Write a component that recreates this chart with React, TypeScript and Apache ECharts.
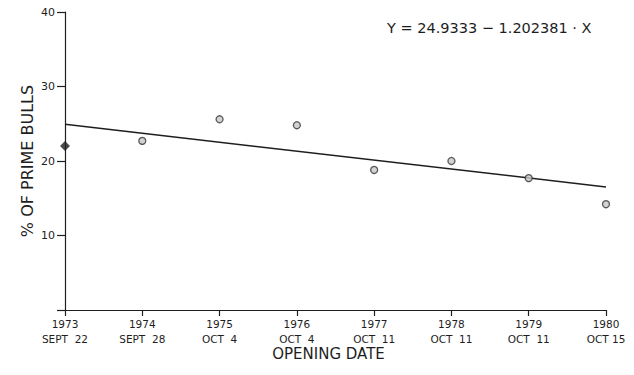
import React, { useEffect, useRef } from "react";
import * as echarts from "echarts";

const years = ["1973", "1974", "1975", "1976", "1977", "1978", "1979", "1980"];
const dates = ["SEPT  22", "SEPT  28", "OCT  4", "OCT  4", "OCT  11", "OCT  11", "OCT  11", "OCT 15"];
const primePct = [22.0, 22.7, 25.6, 24.8, 18.8, 20.0, 17.7, 14.2];
const intercept = 24.9333;
const slope = -1.202381;
const yTicks = [0, 10, 20, 30, 40];

export default function App() {
  const ref = useRef<HTMLDivElement>(null);
  useEffect(() => {
    if (!ref.current) return;
    const chart = echarts.init(ref.current, null, { renderer: "svg" });
    const font = "DejaVu Sans";
    const ink = "#1e1e1e";
    const lastX = years.length - 1;
    const fitLine = [
      [0, intercept + slope * 0],
      [lastX, intercept + slope * lastX],
    ];
    const firstPoint = [[0, primePct[0]]];
    const otherPoints = primePct.slice(1).map((v, i) => [i + 1, v]);
    chart.setOption({
      animation: false,
      backgroundColor: "#ffffff",
      grid: { left: 65, top: 12, right: 28, bottom: 65, containLabel: false },
      xAxis: {
        type: "value",
        min: 0,
        max: lastX,
        interval: 1,
        name: "OPENING DATE",
        nameLocation: "middle",
        nameGap: 36,
        nameMoveOverlap: false,
        nameTextStyle: { fontFamily: font, fontSize: 15, color: ink, padding: [0, 14, 0, 0] },
        axisLine: { show: true, onZero: false, lineStyle: { color: ink, width: 1.2 } },
        axisTick: { show: true, length: 6, inside: false, lineStyle: { color: ink, width: 1.2 } },
        axisLabel: {
          fontFamily: font,
          fontSize: 10.5,
          color: ink,
          lineHeight: 15,
          margin: 6,
          formatter: (v: number) => `${years[v]}\n${dates[v]}`,
        },
        splitLine: { show: false },
      },
      yAxis: {
        type: "value",
        min: yTicks[0],
        max: yTicks[yTicks.length - 1],
        interval: 10,
        name: "% OF PRIME BULLS",
        nameLocation: "middle",
        nameGap: 30,
        nameMoveOverlap: false,
        nameRotate: 90,
        nameTextStyle: { fontFamily: font, fontSize: 16, color: ink },
        axisLine: { show: true, lineStyle: { color: ink, width: 1.2 } },
        axisTick: { show: true, length: 8, lineStyle: { color: ink, width: 1.2 } },
        axisLabel: {
          fontFamily: font,
          fontSize: 11,
          color: ink,
          margin: 10,
          formatter: (v: number) => (v === 0 ? "" : String(v)),
        },
        splitLine: { show: false },
      },
      graphic: [
        {
          type: "text",
          left: 387,
          top: 20,
          style: {
            text: "Y = 24.9333 \u2212 1.202381 \u00b7 X",
            fontFamily: font,
            fontSize: 14.5,
            fill: ink,
          },
        },
      ],
      series: [
        {
          type: "line",
          data: fitLine,
          symbol: "none",
          lineStyle: { color: ink, width: 1.5 },
          z: 2,
        },
        {
          type: "scatter",
          data: otherPoints,
          symbol: "circle",
          symbolSize: 7,
          itemStyle: { color: "#c8c8c8", borderColor: "#333", borderWidth: 1.3 },
          z: 3,
        },
        {
          type: "scatter",
          data: firstPoint,
          symbol: "diamond",
          symbolSize: 10,
          itemStyle: { color: ink },
          z: 4,
        },
      ],
    });
    return () => chart.dispose();
  }, []);
  return <div ref={ref} style={{ width: 634, height: 375, marginLeft: -8, marginTop: -8 }} />;
}
